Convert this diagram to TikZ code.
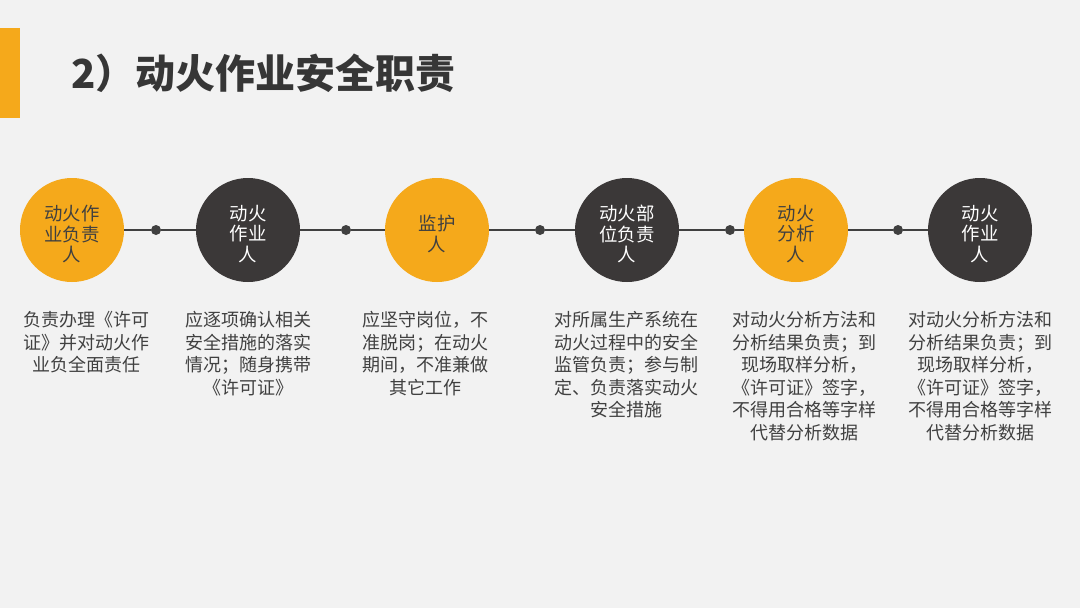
\documentclass[tikz,border=0pt]{standalone}
\usepackage{fontspec}
\setmainfont{Noto Sans CJK SC}
\definecolor{bgc}{HTML}{F2F2F2}
\definecolor{orangec}{HTML}{F5A91B}
\definecolor{darkc}{HTML}{3B3838}
\definecolor{linec}{HTML}{404040}
\definecolor{textc}{HTML}{404040}
\definecolor{titlec}{HTML}{363636}
\begin{document}
\begin{tikzpicture}[x=0.75pt,y=-0.75pt,
  circbase/.style={circle,minimum size=78pt,inner sep=0pt},
  orangecirc/.style={circbase,fill=orangec},
  darkcirc/.style={circbase,fill=darkc},
  circtext/.style={inner sep=0pt,align=center,font=\fontsize{13.8pt}{15.6pt}\selectfont},
  ontext/.style={circtext,text=textc},
  offtext/.style={circtext,text=white},
  dotnode/.style={circle,fill=linec,minimum size=7.5pt,inner sep=0pt},
  conn/.style={draw=linec,line width=1.1pt},
  desc/.style={anchor=north,align=center,inner sep=0pt,text=textc,
    font=\fontsize{13.5pt}{16.9pt}\selectfont}]
\fill[bgc] (0,0) rectangle (1080,608);
\useasboundingbox (0,0) rectangle (1080,608);
% left accent bar
\fill[orangec] (0,28) rectangle (20,118);
% title
\node[anchor=west,inner sep=0pt,text=titlec,font=\fontsize{30pt}{34pt}\selectfont\bfseries] (title) at (71,73) {2）动火作业安全职责};
% circles
\node[orangecirc] (c1) at (72,230) {};
\node[darkcirc]   (c2) at (248,230) {};
\node[orangecirc] (c3) at (437,230) {};
\node[darkcirc]   (c4) at (627,230) {};
\node[orangecirc] (c5) at (796,230) {};
\node[darkcirc]   (c6) at (980,230) {};
% circle labels
\node[ontext]  (l1) at ([yshift=-3pt]c1.center) {动火作\\业负责\\人};
\node[offtext] (l2) at ([yshift=-3pt]c2.center) {动火\\作业\\人};
\node[ontext]  (l3) at ([yshift=-3pt]c3.center) {监护\\人};
\node[offtext] (l4) at ([yshift=-3pt]c4.center) {动火部\\位负责\\人};
\node[ontext]  (l5) at ([yshift=-3pt]c5.center) {动火\\分析\\人};
\node[offtext] (l6) at ([yshift=-3pt]c6.center) {动火\\作业\\人};
% dots
\node[dotnode] (d1) at (156,230) {};
\node[dotnode] (d2) at (346,230) {};
\node[dotnode] (d3) at (540,230) {};
\node[dotnode] (d4) at (730,230) {};
\node[dotnode] (d5) at (898,230) {};
% connectors
\draw[conn] (c1) -- (d1) -- (c2);
\draw[conn] (c2) -- (d2) -- (c3);
\draw[conn] (c3) -- (d3) -- (c4);
\draw[conn] (c4) -- (d4) -- (c5);
\draw[conn] (c5) -- (d5) -- (c6);
% descriptions
\node[desc] (t1) at (86,311) {负责办理《许可\\证》并对动火作\\业负全面责任};
\node[desc] (t2) at (248,311) {应逐项确认相关\\安全措施的落实\\情况；随身携带\\《许可证》};
\node[desc] (t3) at (425,311) {应坚守岗位，不\\准脱岗；在动火\\期间，不准兼做\\其它工作};
\node[desc] (t4) at (626,311) {对所属生产系统在\\动火过程中的安全\\监管负责；参与制\\定、负责落实动火\\安全措施};
\node[desc] (t5) at (804,311) {对动火分析方法和\\分析结果负责；到\\现场取样分析，\\《许可证》签字，\\不得用合格等字样\\代替分析数据};
\node[desc] (t6) at (980,311) {对动火分析方法和\\分析结果负责；到\\现场取样分析，\\《许可证》签字，\\不得用合格等字样\\代替分析数据};
\end{tikzpicture}
\end{document}
